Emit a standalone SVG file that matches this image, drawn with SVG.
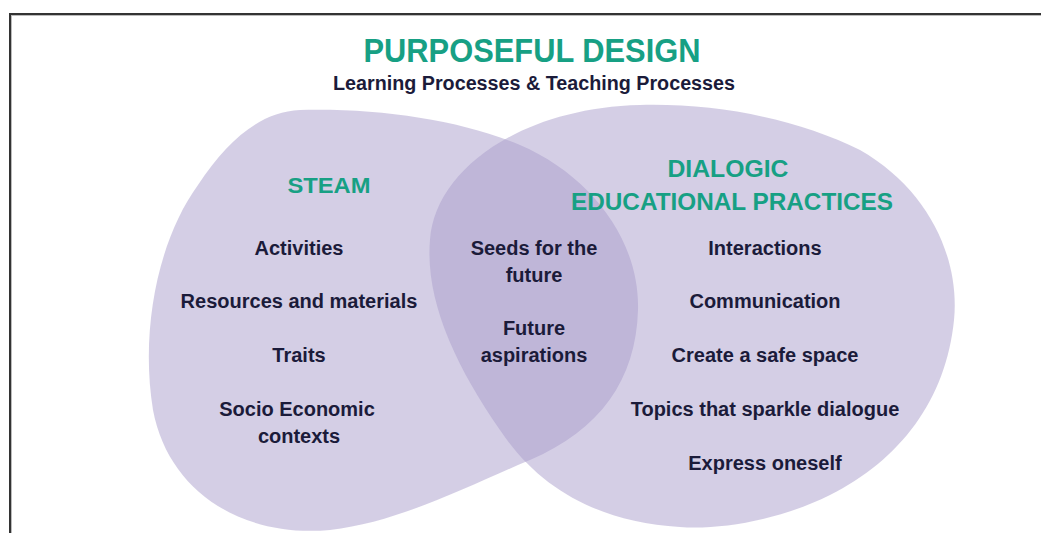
<svg xmlns="http://www.w3.org/2000/svg" width="1041" height="533" viewBox="0 0 1041 533">
<style>
.blob{fill:#a99dcc;fill-opacity:0.5}
.h{font-family:"Liberation Sans",Arial,sans-serif;font-weight:700;fill:#17a084;text-anchor:middle}
.t{font-family:"Liberation Sans",Arial,sans-serif;font-weight:700;font-size:20px;fill:#1b1b3a;text-anchor:middle}
</style>
<rect width="1041" height="533" fill="#ffffff"/>
<path d="M10.5,533 V14.5 H1041" fill="none" stroke="#bbbbbb" stroke-width="3"/>
<path d="M10,533 V14 H1041" fill="none" stroke="#333333" stroke-width="2"/>
<g id="steam">
<path class="blob" d="M300,110 C380,108 460,120 520,145 C590,175 640,240 638,310 C636,380 600,430 530,460 C470,485 400,522 330,530 C240,538 168,490 153,410 C140,330 158,240 198,185 C228,140 260,112 300,110 Z"/>
<text class="h" x="329" y="193" font-size="22" textLength="83" lengthAdjust="spacingAndGlyphs">STEAM</text>
<text class="t" x="299" y="255">Activities</text>
<text class="t" x="299" y="308">Resources and materials</text>
<text class="t" x="299" y="362">Traits</text>
<text class="t" x="297" y="416">Socio Economic</text>
<text class="t" x="299" y="443">contexts</text>
</g>
<g id="dialogic">
<path class="blob" d="M640,105 C720,103 800,120 860,150 C930,190 960,260 954,320 C946,400 900,460 830,495 C780,520 720,530 680,527 C600,522 540,490 500,430 C455,365 425,300 430,240 C435,170 520,108 640,105 Z"/>
<text class="h" x="728" y="177" font-size="23" textLength="121" lengthAdjust="spacingAndGlyphs">DIALOGIC</text>
<text class="h" x="732" y="210" font-size="23" textLength="322" lengthAdjust="spacingAndGlyphs">EDUCATIONAL PRACTICES</text>
<text class="t" x="765" y="255">Interactions</text>
<text class="t" x="765" y="308">Communication</text>
<text class="t" x="765" y="362">Create a safe space</text>
<text class="t" x="765" y="416">Topics that sparkle dialogue</text>
<text class="t" x="765" y="470">Express oneself</text>
</g>
<g id="overlap">
<text class="t" x="534" y="255">Seeds for the</text>
<text class="t" x="534" y="282">future</text>
<text class="t" x="534" y="335">Future</text>
<text class="t" x="534" y="362">aspirations</text>
</g>
<g id="title">
<text class="h" x="532" y="62" font-size="33" textLength="337" lengthAdjust="spacingAndGlyphs">PURPOSEFUL DESIGN</text>
<text class="t" x="534" y="90" font-size="18" textLength="402" lengthAdjust="spacingAndGlyphs">Learning Processes &amp; Teaching Processes</text>
</g>
<g id="connectors"/>
</svg>
